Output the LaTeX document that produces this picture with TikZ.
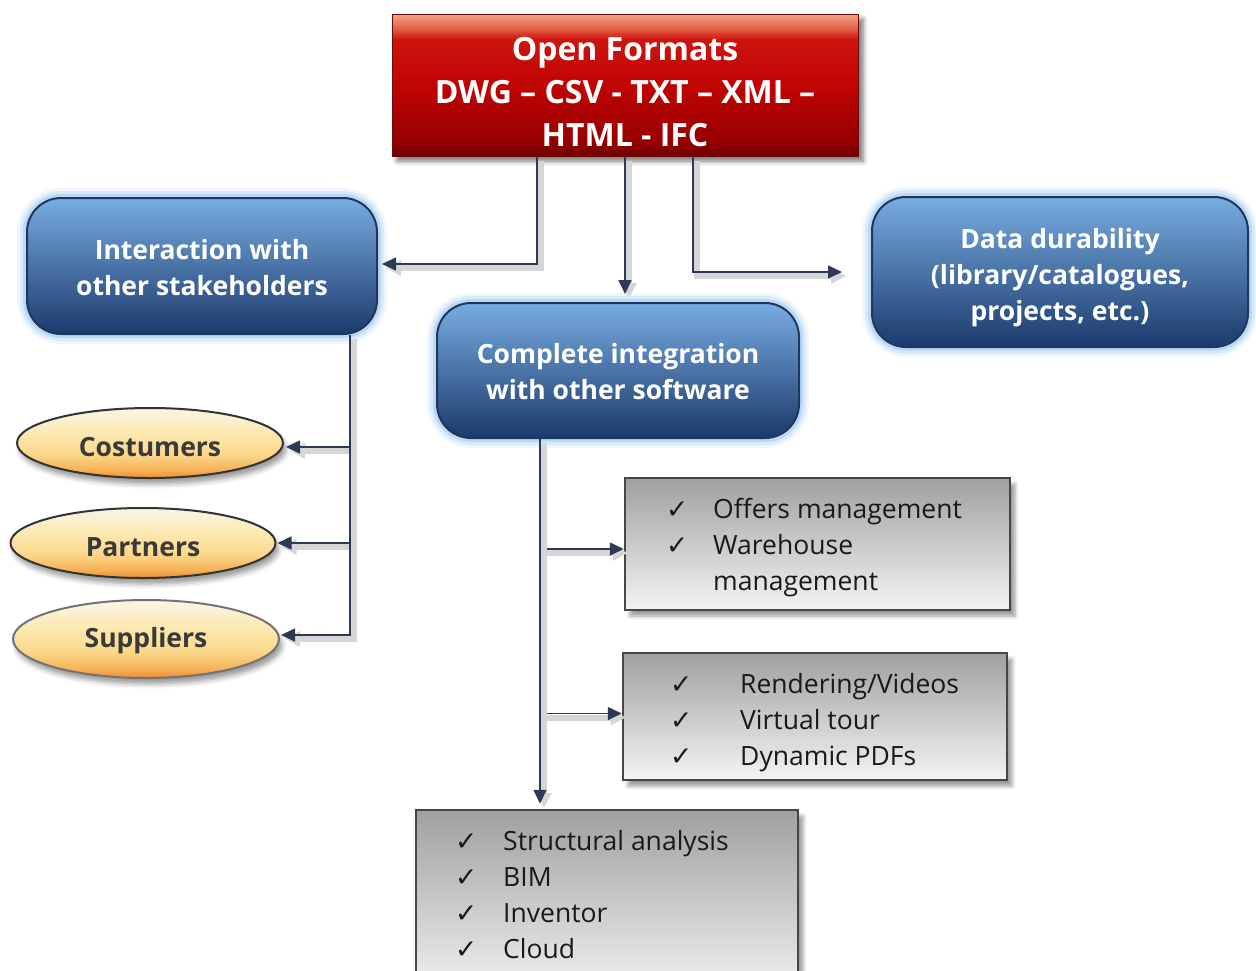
\documentclass[tikz,border=0pt]{standalone}
\usepackage{fontspec}
\setmainfont{Open Sans}
\newfontfamily\chk{DejaVu Sans}
\usetikzlibrary{shapes.geometric,arrows.meta,shadows.blur}
\definecolor{navy}{RGB}{44,58,84}
\definecolor{bluetop}{RGB}{120,172,225}
\definecolor{bluemid}{RGB}{42,108,178}
\definecolor{bluebot}{RGB}{28,58,108}
\definecolor{blueedge}{RGB}{30,55,95}
\definecolor{glowc}{RGB}{130,185,235}
\definecolor{rededge}{RGB}{110,10,10}
\definecolor{greytop}{RGB}{160,160,160}
\definecolor{greybot}{RGB}{244,244,244}
\definecolor{greyedge}{RGB}{70,70,70}
\definecolor{txtdark}{RGB}{58,58,58}
\pgfdeclareverticalshading{redshade}{100bp}{%
  color(0bp)=(rgb,255:red,110;green,0;blue,0);
  color(25bp)=(rgb,255:red,110;green,0;blue,0);
  color(30bp)=(rgb,255:red,150;green,0;blue,0);
  color(50bp)=(rgb,255:red,192;green,4;blue,4);
  color(66bp)=(rgb,255:red,205;green,20;blue,14);
  color(70bp)=(rgb,255:red,228;green,96;blue,74);
  color(75bp)=(rgb,255:red,242;green,165;blue,135);
  color(100bp)=(rgb,255:red,242;green,165;blue,135)}
\pgfdeclareverticalshading{ellshade}{100bp}{%
  color(0bp)=(rgb,255:red,240;green,138;blue,50);
  color(25bp)=(rgb,255:red,240;green,138;blue,50);
  color(31bp)=(rgb,255:red,246;green,178;blue,88);
  color(42bp)=(rgb,255:red,251;green,216;blue,138);
  color(58bp)=(rgb,255:red,252;green,233;blue,178);
  color(75bp)=(rgb,255:red,250;green,245;blue,232);
  color(100bp)=(rgb,255:red,250;green,245;blue,232)}
\tikzset{
  redbox/.style={draw=rededge, line width=1pt, shading=redshade,
    blur shadow={shadow xshift=5pt, shadow yshift=-5pt, shadow blur radius=5pt, shadow opacity=55},
    minimum width=466, minimum height=142, inner sep=0pt},
  redtxt/.style={align=center, text=white, inner sep=0pt, font=\bfseries\fontsize{32}{43}\selectfont},
  bluebox/.style={draw=blueedge, line width=2pt, rounded corners=34pt,
    top color=bluetop, middle color=bluemid, bottom color=bluebot,
    preaction={draw=glowc, line width=20pt, opacity=0.12},
    preaction={draw=glowc, line width=14pt, opacity=0.2},
    preaction={draw=glowc, line width=8pt, opacity=0.35},
    inner sep=0pt},
  bluetxt/.style={align=center, text=white, inner sep=0pt, font=\bfseries\fontsize{26.5}{36}\selectfont},
  ellbox/.style={ellipse, draw=black!80, line width=2pt, shading=ellshade,
    blur shadow={shadow xshift=3pt, shadow yshift=-6pt, shadow blur radius=5pt, shadow opacity=40},
    inner sep=0pt},
  elltxt/.style={text=txtdark, inner sep=0pt, font=\bfseries\fontsize{26.5}{30}\selectfont},
  greybox/.style={draw=greyedge, line width=2.5pt, top color=greytop, bottom color=greybot,
    blur shadow={shadow xshift=5pt, shadow yshift=-6pt, shadow blur radius=4pt, shadow opacity=40},
    inner sep=0pt},
  listtxt/.style={anchor=base west, inner sep=0pt, text=black!90, font=\fontsize{26.5}{36}\selectfont},
  conn/.style={draw=navy, line width=1.6pt, -{Triangle[length=14pt,width=13pt]}},
  cshadow/.style={draw=black!16, line width=6pt, -{Triangle[length=15pt,width=15pt]},
    transform canvas={shift={(4pt,-4pt)}}},
}
\newcommand\linkpath[1]{\draw[cshadow] #1; \draw[conn] #1;}
\begin{document}
\begin{tikzpicture}[x=1pt,y=-1pt]
\useasboundingbox (0,0) rectangle (1256,970);
\clip (0,0) rectangle (1256,970);

% boxes
\node[redbox] (fmt) at (625,85) {};
\node[redtxt] (fmtlbl) at (625,92) {Open Formats\\DWG – CSV - TXT – XML –\\HTML - IFC};

\node[bluebox, minimum width=350, minimum height=136] (stake) at (202,266) {};
\node[bluetxt] (stakelbl) at (202,268) {Interaction with\\other stakeholders};
\node[bluebox, minimum width=362, minimum height=135] (integ) at (618,370.5) {};
\node[bluetxt] (integlbl) at (618,372) {Complete integration\\with other software};
\node[bluebox, minimum width=376, minimum height=150] (data) at (1060,272) {};
\node[bluetxt] (datalbl) at (1060,278) {Data durability\\(library/catalogues,\\projects, etc.)};

\node[ellbox, minimum width=266, minimum height=70] (cost) at (150,443) {};
\node[elltxt] (costlbl) at (150,447) {Costumers};
\node[ellbox, minimum width=265, minimum height=70] (part) at (143,543) {};
\node[elltxt] (partlbl) at (143,547) {Partners};
\node[ellbox, draw=black!55, minimum width=266, minimum height=78] (supp) at (146,639) {};
\node[elltxt] (supplbl) at (146,641) {Suppliers};

\node[greybox, minimum width=385, minimum height=132] (box1) at (817.5,544) {};
\node[greybox, minimum width=384, minimum height=127] (box2) at (815,716.5) {};
\node[greybox, minimum width=382, minimum height=190] (box3) at (607,905) {};

\node[listtxt] (list1) at (666,518) {\begin{tabular}[t]{@{}p{47pt}@{}l@{}}
{\chk ✓} & Offers management\\
{\chk ✓} & Warehouse\\
 & management
\end{tabular}};
\node[listtxt] (list2) at (670,693) {\begin{tabular}[t]{@{}p{70pt}@{}l@{}}
{\chk ✓} & Rendering/Videos\\
{\chk ✓} & Virtual tour\\
{\chk ✓} & Dynamic PDFs
\end{tabular}};
\node[listtxt] (list3) at (455,850) {\begin{tabular}[t]{@{}p{48pt}@{}l@{}}
{\chk ✓} & Structural analysis\\
{\chk ✓} & BIM\\
{\chk ✓} & Inventor\\
{\chk ✓} & Cloud
\end{tabular}};

% connectors
\linkpath{([xshift=-88pt]fmt.south) |- ([xshift=4pt,yshift=2pt]stake.east)}
\linkpath{(fmt.south) -- ([yshift=8pt]fmt.south |- integ.north)}
\linkpath{([xshift=68pt]fmt.south) |- ([xshift=-29pt]data.west)}

\linkpath{([xshift=148pt]stake.south) |- ([xshift=2pt,yshift=-4pt]cost.east)}
\linkpath{([xshift=148pt]stake.south) |- ([xshift=1pt]part.east)}
\linkpath{([xshift=148pt]stake.south) |- ([xshift=1pt,yshift=4pt]supp.east)}

\linkpath{([xshift=-78pt]integ.south) |- ([yshift=-5pt]box1.west)}
\linkpath{([xshift=-78pt]integ.south) |- ([yshift=3pt]box2.west)}
\linkpath{([xshift=-78pt]integ.south) -- ([xshift=-78pt,yshift=5pt]integ.south |- box3.north)}
\end{tikzpicture}
\end{document}
